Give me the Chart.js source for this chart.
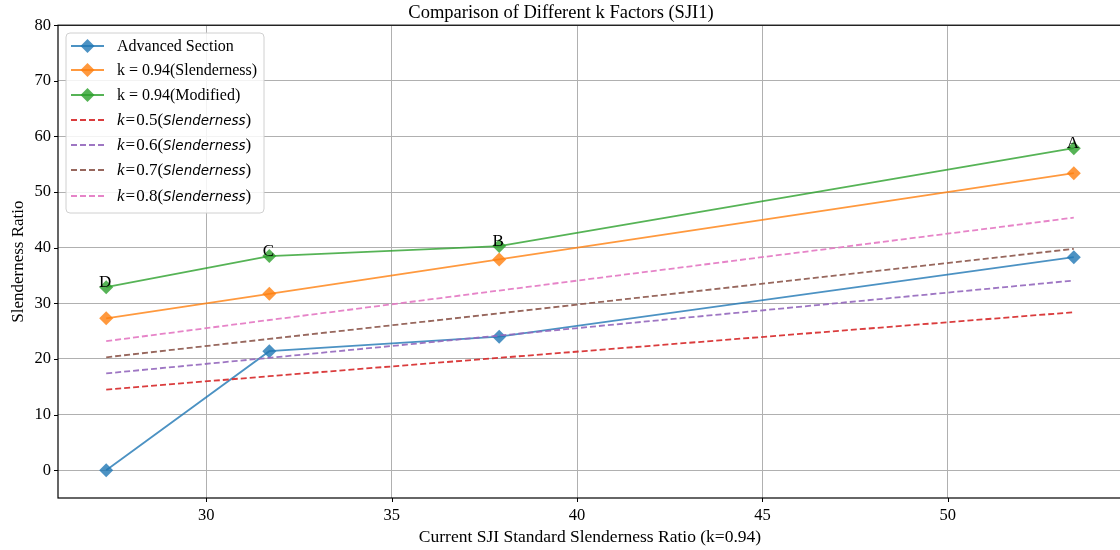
<!DOCTYPE html>
<html>
<head>
<meta charset="utf-8">
<script src="https://cdn.jsdelivr.net/npm/chart.js@4.4.1/dist/chart.umd.min.js"></script>
<style>
  html, body { margin: 0; padding: 0; background: #fff; overflow: hidden; }
  #wrap { width: 1180px; height: 550px; }
</style>
</head>
<body>
<div id="wrap"><canvas id="chart" width="1180" height="550"></canvas></div>
<script>
// data
const xVals = [27.3, 31.7, 37.9, 53.4];
const pointNames = ['D', 'C', 'B', 'A'];
const advanced = [0, 21.4, 24.0, 38.3];
const slender094 = [27.3, 31.7, 37.9, 53.4];
const modified094 = [32.9, 38.5, 40.3, 57.9];
const k05 = [14.5, 16.9, 20.2, 28.4];
const k06 = [17.4, 20.2, 24.2, 34.1];
const k07 = [20.3, 23.6, 28.2, 39.8];
const k08 = [23.2, 27.0, 32.3, 45.4];
const xTicks = [30, 35, 40, 45, 50];
const yTicks = [0, 10, 20, 30, 40, 50, 60, 70, 80];

const serif = '"Liberation Serif", "Times New Roman", serif';

function pts(ys) {
  return xVals.map((x, i) => ({ x: x, y: ys[i] }));
}

function solid(label, ys, color) {
  return {
    label: label, data: pts(ys),
    borderColor: color, backgroundColor: color,
    borderWidth: 1.8, pointStyle: 'rectRot', pointRadius: 7, pointHoverRadius: 7,
    pointBorderWidth: 0, tension: 0
  };
}
function dashed(label, ys, color) {
  return {
    label: label, data: pts(ys),
    borderColor: color, backgroundColor: color,
    borderWidth: 1.8, borderDash: [6, 3], pointRadius: 0, tension: 0
  };
}

const datasets = [
  solid('Advanced Section', advanced, 'rgba(31,119,180,0.8)'),
  solid('k = 0.94(Slenderness)', slender094, 'rgba(255,127,14,0.8)'),
  solid('k = 0.94(Modified)', modified094, 'rgba(44,160,44,0.8)'),
  dashed('k=0.5', k05, 'rgba(214,39,40,0.9)'),
  dashed('k=0.6', k06, 'rgba(148,103,189,0.9)'),
  dashed('k=0.7', k07, 'rgba(140,86,75,0.9)'),
  dashed('k=0.8', k08, 'rgba(227,119,194,0.9)')
];
// later series on top, like matplotlib
datasets.forEach((d, i) => d.order = datasets.length - i);

// frame, tick marks, A-D labels and legend drawn on top
const extras = {
  id: 'extras',
  afterDatasetsDraw(chart) {
    const ctx = chart.ctx;
    const a = chart.chartArea;
    const xs = chart.scales.x, ys = chart.scales.y;

    // point names above the green markers
    ctx.save();
    ctx.fillStyle = '#000';
    ctx.font = '17px ' + serif;
    ctx.textAlign = 'center';
    ctx.textBaseline = 'bottom';
    pointNames.forEach((n, i) => {
      ctx.fillText(n, xs.getPixelForValue(xVals[i]) - 1, ys.getPixelForValue(modified094[i]) + 4);
    });
    ctx.restore();

    // box around the axes, plus outward ticks
    ctx.save();
    ctx.strokeStyle = '#000';
    ctx.lineWidth = 1.2;
    ctx.strokeRect(a.left, a.top, a.right - a.left, a.bottom - a.top);
    ctx.lineWidth = 1;
    ctx.beginPath();
    xTicks.forEach(v => {
      const px = Math.round(xs.getPixelForValue(v)) + 0.5;
      ctx.moveTo(px, a.bottom); ctx.lineTo(px, a.bottom + 4);
    });
    yTicks.forEach(v => {
      const py = Math.round(ys.getPixelForValue(v)) + 0.5;
      ctx.moveTo(a.left, py); ctx.lineTo(a.left - 4, py);
    });
    ctx.stroke();
    ctx.restore();

    // legend
    ctx.save();
    const bx = 66, by = 33, bw = 198, bh = 180;
    ctx.beginPath();
    ctx.roundRect(bx, by, bw, bh, 4);
    ctx.fillStyle = 'rgba(255,255,255,0.85)';
    ctx.fill();
    ctx.strokeStyle = '#d0d0d0';
    ctx.lineWidth = 1;
    ctx.stroke();

    const rowY = [46, 70, 95, 120, 145, 170, 196];
    datasets.forEach((d, i) => {
      const y = rowY[i];
      ctx.strokeStyle = d.borderColor;
      ctx.lineWidth = 1.8;
      ctx.setLineDash(d.borderDash || []);
      ctx.beginPath();
      ctx.moveTo(71, y);
      ctx.lineTo(104, y);
      ctx.stroke();
      ctx.setLineDash([]);
      if (d.pointRadius) {
        ctx.fillStyle = d.backgroundColor;
        ctx.beginPath();
        ctx.moveTo(87.5, y - 7);
        ctx.lineTo(94.5, y);
        ctx.lineTo(87.5, y + 7);
        ctx.lineTo(80.5, y);
        ctx.closePath();
        ctx.fill();
      }
      ctx.fillStyle = '#000';
      ctx.textBaseline = 'middle';
      ctx.textAlign = 'left';
      let tx = 117;
      if (i < 3) {
        ctx.font = '16px ' + serif;
        ctx.fillText(d.label, tx, y + 1);
      } else {
        // k=0.x(Slenderness) with italic k and Slenderness
        const num = d.label.split('=')[1];
        const parts = [
          ['italic 17px ' + serif, 'k', 1],
          ['17px ' + serif, '=', 1],
          ['17px ' + serif, num + '(', 0],
          ['italic 13.5px "DejaVu Sans", sans-serif', 'Slenderness', 0],
          ['17px ' + serif, ')', 0]
        ];
        parts.forEach(p => {
          ctx.font = p[0];
          ctx.fillText(p[1], tx, y + 1);
          tx += ctx.measureText(p[1]).width + p[2];
        });
      }
    });
    ctx.restore();
  }
};

new Chart(document.getElementById('chart'), {
  type: 'line',
  data: { datasets: datasets },
  options: {
    responsive: false,
    animation: false,
    layout: { padding: { top: 0, right: 58, bottom: 0, left: 0 } },
    plugins: {
      legend: { display: false },
      tooltip: { enabled: false },
      title: {
        display: true,
        text: 'Comparison of Different k Factors (SJI1)',
        color: '#000',
        font: { family: serif, size: 18.5, weight: 'normal', lineHeight: 1.2 },
        padding: { top: 2, bottom: 1 }
      }
    },
    scales: {
      x: {
        type: 'linear', min: 26.0, max: 54.7,
        afterBuildTicks: s => { s.ticks = xTicks.map(v => ({ value: v })); },
        afterFit: s => { s.height = 52; },
        grid: { color: '#b0b0b0', lineWidth: 1, drawTicks: false },
        border: { display: false },
        ticks: { color: '#000', font: { family: serif, size: 16.5 }, padding: 8, maxRotation: 0 },
        title: {
          display: true, text: 'Current SJI Standard Slenderness Ratio (k=0.94)',
          color: '#000', font: { family: serif, size: 17.5 }, padding: { top: 0, bottom: 2 }
        }
      },
      y: {
        type: 'linear', min: -5, max: 80,
        afterBuildTicks: s => { s.ticks = yTicks.map(v => ({ value: v })); },
        afterFit: s => { s.width = 58; },
        grid: { color: '#b0b0b0', lineWidth: 1, drawTicks: false },
        border: { display: false },
        ticks: { color: '#000', font: { family: serif, size: 16.5 }, padding: 7 },
        title: {
          display: true, text: 'Slenderness Ratio',
          color: '#000', font: { family: serif, size: 17 }, padding: { top: 8, bottom: 0 }
        }
      }
    }
  },
  plugins: [extras]
});
</script>
</body>
</html>
